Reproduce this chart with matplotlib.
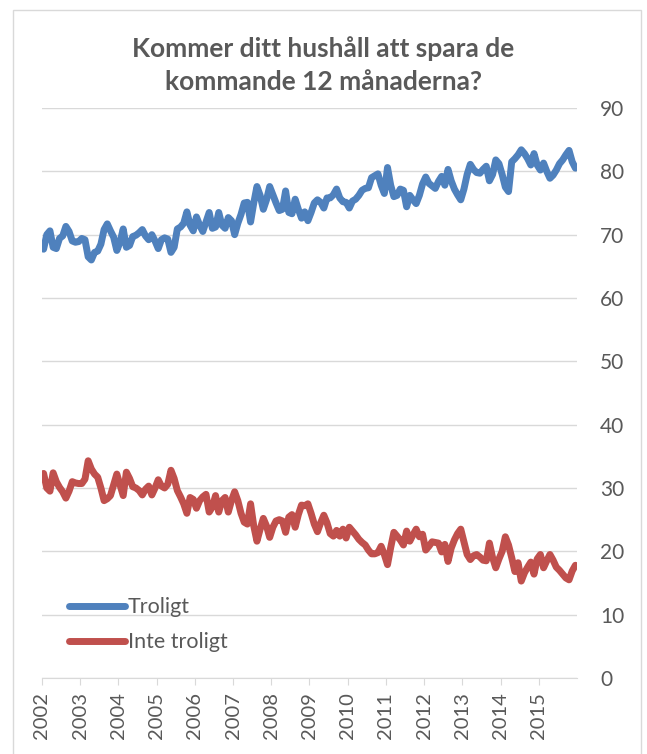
import matplotlib
matplotlib.use("Agg")
import matplotlib.pyplot as plt
from matplotlib.patches import Rectangle
import numpy as np

# monthly survey shares (%), Jan 2002 - Dec 2015
years = list(range(2002, 2016))

troligt = [
    67.7, 70.0, 70.6, 68.0, 67.8, 69.4, 69.8, 71.3, 70.5, 69.0, 68.8, 68.9,  # 2002
    69.4, 69.2, 66.5, 66.0, 67.2, 67.4, 68.5, 70.8, 71.7, 70.6, 69.6, 67.5,  # 2003
    68.8, 70.9, 68.0, 68.3, 69.7, 69.9, 70.3, 70.8, 69.8, 69.2, 70.0, 69.0,  # 2004
    67.8, 69.2, 69.5, 69.3, 67.2, 68.0, 70.9, 71.2, 71.8, 73.6, 71.5, 70.6,  # 2005
    72.8, 71.5, 70.5, 72.0, 73.5, 71.0, 71.2, 73.5, 71.5, 71.0, 72.7, 72.2,  # 2006
    70.0, 71.8, 73.2, 75.0, 75.1, 72.0, 75.0, 77.6, 76.2, 74.0, 75.5, 77.6,  # 2007
    76.3, 75.0, 73.8, 74.0, 76.9, 73.5, 73.3, 75.6, 74.0, 72.6, 73.6, 72.2,  # 2008
    73.5, 75.0, 75.5, 75.1, 74.2, 75.8, 75.8, 76.3, 77.2, 75.8, 75.2, 75.1,  # 2009
    74.2, 75.3, 75.6, 76.2, 77.0, 77.3, 77.4, 79.0, 79.3, 79.6, 77.8, 76.5,  # 2010
    80.6, 77.8, 76.0, 76.2, 77.2, 77.0, 74.4, 76.2, 75.5, 74.9, 76.2, 78.0,  # 2011
    79.1, 78.1, 77.7, 77.3, 78.4, 79.2, 77.8, 80.3, 78.5, 77.2, 76.3, 75.5,  # 2012
    77.2, 79.5, 81.1, 80.3, 79.8, 79.7, 80.3, 80.8, 78.5, 79.5, 81.8, 81.2,  # 2013
    79.5, 77.5, 76.8, 81.5, 82.0, 82.6, 83.4, 82.8, 82.0, 81.0, 82.8, 81.0,  # 2014
    80.2, 81.3, 80.0, 78.9, 79.4, 80.2, 81.2, 81.8, 82.6, 83.3, 81.5, 80.5,  # 2015
]

inte_troligt = [
    32.3, 30.0, 29.5, 32.4, 31.0, 30.1, 29.4, 28.4, 29.5, 31.0, 30.8, 30.7,  # 2002
    30.7, 31.4, 34.3, 33.0, 32.2, 31.7, 30.0, 28.0, 28.3, 28.8, 30.5, 32.2,  # 2003
    30.5, 28.8, 32.5, 31.5, 30.2, 30.0, 29.6, 28.9, 29.8, 30.3, 28.9, 30.0,  # 2004
    31.3, 30.3, 30.0, 30.6, 32.8, 31.5, 29.6, 28.6, 27.5, 26.0, 28.5, 28.2,  # 2005
    26.8, 28.0, 28.6, 29.0, 26.2, 27.0, 28.8, 26.2, 28.0, 28.5, 26.2, 28.0,  # 2006
    29.4, 28.0, 26.0, 24.6, 24.3, 27.5, 24.0, 21.6, 23.5, 25.2, 24.0, 22.2,  # 2007
    23.8, 24.8, 25.0, 24.8, 23.0, 25.4, 25.8, 23.8, 25.8, 27.3, 27.2, 27.5,  # 2008
    26.0, 24.3, 23.1, 24.5, 25.7, 24.5, 22.8, 22.4, 23.3, 22.4, 23.5, 22.1,  # 2009
    23.8, 23.2, 22.6, 21.9, 21.4, 21.0, 20.2, 19.6, 19.6, 19.8, 20.8, 19.5,  # 2010
    17.9, 20.6, 23.0, 22.4, 21.8, 21.0, 23.2, 21.6, 22.6, 23.5, 22.3, 22.7,  # 2011
    20.2, 20.8, 21.5, 21.4, 21.3, 19.9, 21.1, 18.4, 20.5, 21.8, 22.8, 23.5,  # 2012
    21.5, 19.5, 18.7, 19.3, 19.5, 19.1, 18.6, 18.5, 21.3, 19.0, 17.4, 18.8,  # 2013
    20.0, 22.3, 21.0, 19.0, 16.8, 18.2, 15.3, 16.6, 17.5, 18.3, 16.4, 18.8,  # 2014
    19.5, 17.4, 18.5, 19.5, 18.6, 17.5, 17.0, 16.4, 15.8, 15.5, 16.9, 17.8,  # 2015
]

blue = "#4F81BD"
red = "#C0504D"
grey_txt = "#595959"
grid_c = "#D9D9D9"

plt.rcParams["font.family"] = ["Lato", "DejaVu Sans"]

fig = plt.figure(figsize=(6.47, 7.54), dpi=100)
ax = fig.add_axes([0.0649, 0.1008, 0.8269, 0.756])

x = np.arange(len(troligt)) + 0.5
ax.plot(x, troligt, color=blue, lw=5, solid_capstyle="round",
        solid_joinstyle="round", label="Troligt")
ax.plot(x, inte_troligt, color=red, lw=5, solid_capstyle="round",
        solid_joinstyle="round", label="Inte troligt")

ax.set_xlim(0, len(troligt))
ax.set_ylim(0, 90)
ax.set_yticks(range(0, 91, 10))
ax.yaxis.tick_right()
ax.grid(axis="y", color=grid_c, lw=1)
ax.set_axisbelow(True)
ax.tick_params(axis="y", length=0, pad=16.5, labelsize=15, labelcolor=grey_txt)

ax.set_xticks([12 * i for i in range(len(years))])
ax.set_xticklabels([str(y) for y in years], rotation=90)
ax.tick_params(axis="x", direction="out", length=5, color=grid_c, pad=5,
               labelsize=14.5, labelcolor=grey_txt)

for s in ["left", "right", "top"]:
    ax.spines[s].set_visible(False)
ax.spines["bottom"].set_color(grid_c)

ax.legend(loc="upper left", bbox_to_anchor=(0.05, 0.142), frameon=False,
          fontsize=15.5, labelcolor=grey_txt, handlelength=2.6,
          handletextpad=0.15, labelspacing=0.7, borderpad=0, borderaxespad=0)

fig.text(0.5, 0.9138, "Kommer ditt hushåll att spara de\nkommande 12 månaderna?",
         ha="center", va="center", fontsize=19, fontweight="bold",
         color=grey_txt, linespacing=1.48)

fig.patches.append(Rectangle((13 / 647, -0.02), (641 - 13) / 647, 1.02 - 10 / 754,
                             transform=fig.transFigure, fill=False,
                             edgecolor=grid_c, lw=1))

fig.savefig("out.png", dpi=100)
